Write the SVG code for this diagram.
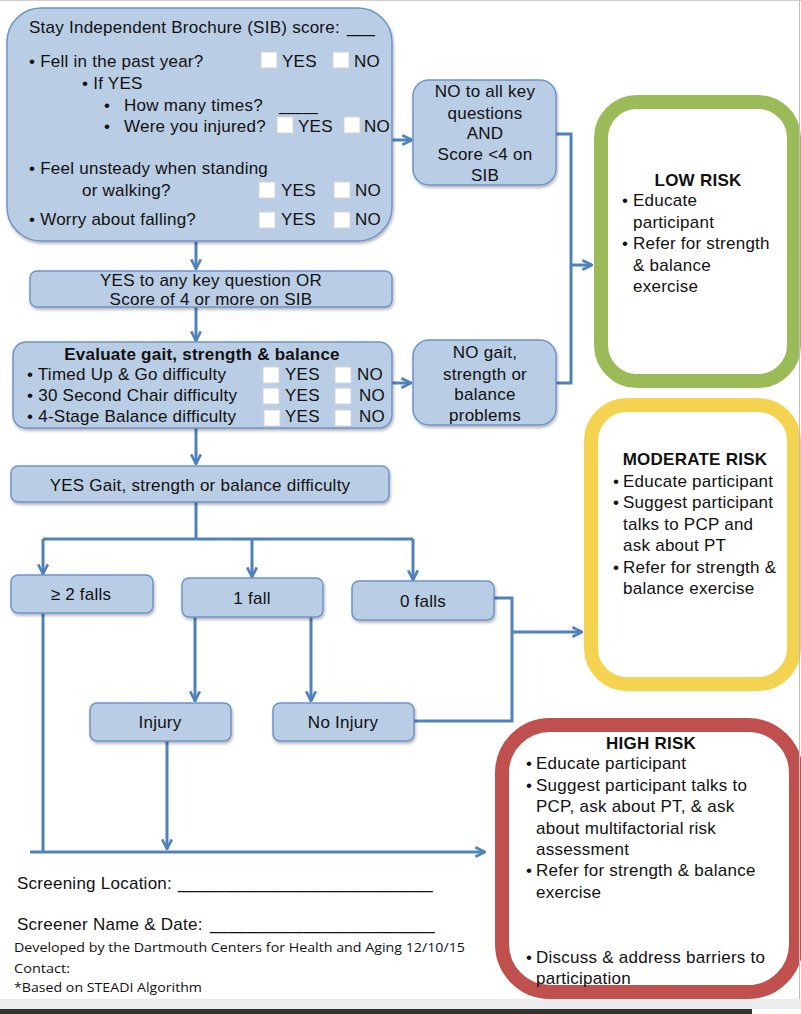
<svg xmlns="http://www.w3.org/2000/svg" width="801" height="1014" viewBox="0 0 801 1014">
<defs>
<filter id="sh" x="-5%" y="-5%" width="110%" height="120%">
<feDropShadow dx="1" dy="2" stdDeviation="1.5" flood-color="#000" flood-opacity="0.3"/>
</filter>
<marker id="ar" viewBox="0 0 10 10" refX="9" refY="5" markerWidth="12" markerHeight="12" markerUnits="userSpaceOnUse" orient="auto">
<path d="M1,1 L9,5 L1,9" fill="none" stroke="#4f81bd" stroke-width="2.2"/>
</marker>
<style>
.box{fill:#b9cde5;stroke:#6f94c9;stroke-width:1.5;filter:url(#sh)}
.t{font-family:"Liberation Sans",Arial,sans-serif;font-size:17px;letter-spacing:0.25px;fill:#111}
.c{text-anchor:middle}
.b{font-weight:bold}
.cb{fill:#fff;stroke:#d4d4d4;stroke-width:1}
.ln{fill:none;stroke:#4f81bd;stroke-width:3}
.ft{font-family:"Open Sans","Noto Sans",sans-serif;font-size:13.5px;fill:#111}
</style>
</defs>
<rect x="0" y="0" width="801" height="1014" fill="#fff"/>

<g id="connectors">
<path class="ln" d="M392,140 H412" marker-end="url(#ar)"/>
<path class="ln" d="M556,134 H571 V383 H556"/>
<path class="ln" d="M571,265 H592" marker-end="url(#ar)"/>
<path class="ln" d="M196,242 V269" marker-end="url(#ar)"/>
<path class="ln" d="M196,307 V341" marker-end="url(#ar)"/>
<path class="ln" d="M392,383 H411" marker-end="url(#ar)"/>
<path class="ln" d="M196,428 V464" marker-end="url(#ar)"/>
<path class="ln" d="M196,502 V539"/>
<path class="ln" d="M43,539 H413"/>
<path class="ln" d="M43,539 V574" marker-end="url(#ar)"/>
<path class="ln" d="M252,539 V577" marker-end="url(#ar)"/>
<path class="ln" d="M413,539 V580" marker-end="url(#ar)"/>
<path class="ln" d="M494,598 H512 V721 H414"/>
<path class="ln" d="M512,632 H582" marker-end="url(#ar)"/>
<path class="ln" d="M195,617 V701" marker-end="url(#ar)"/>
<path class="ln" d="M311,617 V701" marker-end="url(#ar)"/>
<path class="ln" d="M43,613 V852"/>
<path class="ln" d="M30,852 H485" marker-end="url(#ar)"/>
<path class="ln" d="M167,741 V849" marker-end="url(#ar)"/>
</g>

<g id="sib">
<rect class="box" x="7" y="8" width="385" height="233" rx="34"/>
<text class="t" x="29" y="33">Stay Independent Brochure (SIB) score:</text>
<text class="t" x="347" y="33" textLength="28" lengthAdjust="spacingAndGlyphs">___</text>
<text class="t" x="29" y="67">• Fell in the past year?</text>
<rect class="cb" x="261" y="52" width="16" height="16"/><text class="t" x="282" y="67">YES</text>
<rect class="cb" x="333" y="52" width="16" height="16"/><text class="t" x="354" y="67">NO</text>
<text class="t" x="82" y="89">• If YES</text>
<text class="t" x="104" y="111">•</text><text class="t" x="124" y="111">How many times?</text>
<text class="t" x="279" y="111" textLength="39" lengthAdjust="spacingAndGlyphs">_____</text>
<text class="t" x="104" y="132">•</text><text class="t" x="124" y="132">Were you injured?</text>
<rect class="cb" x="277" y="117" width="16" height="16"/><text class="t" x="298" y="132">YES</text>
<rect class="cb" x="344" y="117" width="16" height="16"/><text class="t" x="364" y="132">NO</text>
<text class="t" x="29" y="174">• Feel unsteady when standing</text>
<text class="t" x="82" y="196">or walking?</text>
<rect class="cb" x="259" y="182" width="16" height="16"/><text class="t" x="281" y="196">YES</text>
<rect class="cb" x="334" y="182" width="16" height="16"/><text class="t" x="355" y="196">NO</text>
<text class="t" x="29" y="225">• Worry about falling?</text>
<rect class="cb" x="259" y="212" width="16" height="16"/><text class="t" x="281" y="225">YES</text>
<rect class="cb" x="334" y="212" width="16" height="16"/><text class="t" x="355" y="225">NO</text>
</g>

<g id="no-key">
<rect class="box" x="413" y="80" width="143" height="105" rx="16"/>
<text class="t c" x="485" y="97">NO to all key</text>
<text class="t c" x="485" y="119">questions</text>
<text class="t c" x="485" y="139">AND</text>
<text class="t c" x="485" y="160">Score &lt;4 on</text>
<text class="t c" x="485" y="181">SIB</text>
</g>

<g id="yes-key">
<rect class="box" x="30" y="271" width="362" height="36" rx="7"/>
<text class="t c" x="211" y="286">YES to any key question OR</text>
<text class="t c" x="211" y="305">Score of 4 or more on SIB</text>
</g>

<g id="evaluate">
<rect class="box" x="13" y="342" width="379" height="86" rx="13"/>
<text class="t c b" x="202" y="360">Evaluate gait, strength &amp; balance</text>
<text class="t" x="27" y="380">• Timed Up &amp; Go difficulty</text>
<rect class="cb" x="263" y="367" width="16" height="16"/><text class="t" x="285" y="380">YES</text>
<rect class="cb" x="335" y="367" width="16" height="16"/><text class="t" x="357" y="380">NO</text>
<text class="t" x="27" y="401">• 30 Second Chair difficulty</text>
<rect class="cb" x="263" y="388" width="16" height="16"/><text class="t" x="285" y="401">YES</text>
<rect class="cb" x="335" y="388" width="16" height="16"/><text class="t" x="359" y="401">NO</text>
<text class="t" x="27" y="422">• 4-Stage Balance difficulty</text>
<rect class="cb" x="264" y="410" width="16" height="16"/><text class="t" x="285" y="422">YES</text>
<rect class="cb" x="335" y="410" width="16" height="16"/><text class="t" x="359" y="422">NO</text>
</g>

<g id="no-gait">
<rect class="box" x="413" y="340" width="143" height="85" rx="16"/>
<text class="t c" x="485" y="358">NO gait,</text>
<text class="t c" x="485" y="380">strength or</text>
<text class="t c" x="485" y="400">balance</text>
<text class="t c" x="485" y="421">problems</text>
</g>

<g id="yes-gait">
<rect class="box" x="11" y="466" width="378" height="36" rx="7"/>
<text class="t c" x="200" y="491">YES Gait, strength or balance difficulty</text>
</g>

<g id="two-falls">
<rect class="box" x="11" y="575" width="142" height="38" rx="7"/>
<text class="t c" x="81" y="600">≥ 2 falls</text>
</g>
<g id="one-fall">
<rect class="box" x="182" y="578" width="141" height="39" rx="7"/>
<text class="t c" x="252" y="604">1 fall</text>
</g>
<g id="zero-falls">
<rect class="box" x="352" y="581" width="142" height="39" rx="7"/>
<text class="t c" x="423" y="607">0 falls</text>
</g>
<g id="injury">
<rect class="box" x="90" y="703" width="141" height="38" rx="7"/>
<text class="t c" x="160" y="728">Injury</text>
</g>
<g id="no-injury">
<rect class="box" x="273" y="703" width="141" height="38" rx="7"/>
<text class="t c" x="343" y="728">No Injury</text>
</g>

<g id="low-risk">
<rect x="601" y="102" width="193" height="279" rx="36" fill="#fff" stroke="#9bbb59" stroke-width="14"/>
<text class="t c b" x="698" y="186">LOW RISK</text>
<text class="t" x="622" y="206">•</text><text class="t" x="633" y="206">Educate</text>
<text class="t" x="633" y="228">participant</text>
<text class="t" x="622" y="249">•</text><text class="t" x="633" y="249">Refer for strength</text>
<text class="t" x="633" y="271">&amp; balance</text>
<text class="t" x="633" y="292">exercise</text>
</g>

<g id="moderate-risk">
<rect x="591" y="405" width="203" height="279" rx="36" fill="#fff" stroke="#f4d350" stroke-width="14"/>
<text class="t c b" x="695" y="465">MODERATE RISK</text>
<text class="t" x="613" y="487">•</text><text class="t" x="623" y="487">Educate participant</text>
<text class="t" x="613" y="508">•</text><text class="t" x="623" y="508">Suggest participant</text>
<text class="t" x="623" y="530">talks to PCP and</text>
<text class="t" x="623" y="551">ask about PT</text>
<text class="t" x="613" y="573">•</text><text class="t" x="623" y="573">Refer for strength &amp;</text>
<text class="t" x="623" y="594">balance exercise</text>
</g>

<g id="high-risk">
<rect x="502" y="725" width="294" height="267" rx="48" fill="#fff" stroke="#c0504d" stroke-width="14"/>
<text class="t c b" x="651" y="749">HIGH RISK</text>
<text class="t" x="526" y="769">•</text><text class="t" x="536" y="769">Educate participant</text>
<text class="t" x="526" y="791">•</text><text class="t" x="536" y="791">Suggest participant talks to</text>
<text class="t" x="536" y="812">PCP, ask about PT, &amp; ask</text>
<text class="t" x="536" y="834">about multifactorial risk</text>
<text class="t" x="536" y="855">assessment</text>
<text class="t" x="526" y="876">•</text><text class="t" x="536" y="876">Refer for strength &amp; balance</text>
<text class="t" x="536" y="898">exercise</text>
<text class="t" x="526" y="963">•</text><text class="t" x="536" y="963">Discuss &amp; address barriers to</text>
<text class="t" x="536" y="984">participation</text>
</g>

<g id="footer">
<text class="t" x="17" y="889">Screening Location:</text>
<text class="t" x="178" y="889" textLength="255" lengthAdjust="spacingAndGlyphs">___________________________</text>
<text class="t" x="17" y="930">Screener Name &amp; Date:</text>
<text class="t" x="210" y="930" textLength="225" lengthAdjust="spacingAndGlyphs">________________________</text>
<text class="ft" x="14" y="952" textLength="451" lengthAdjust="spacingAndGlyphs">Developed by the Dartmouth Centers for Health and Aging 12/10/15</text>
<text class="ft" x="14" y="973" textLength="56" lengthAdjust="spacingAndGlyphs">Contact:</text>
<text class="ft" x="14" y="992" textLength="188" lengthAdjust="spacingAndGlyphs">*Based on STEADI Algorithm</text>
</g>

<g id="page-edges">
<line x1="0" y1="0.5" x2="801" y2="0.5" stroke="#cfcfcf" stroke-width="1"/>
<line x1="799.5" y1="0" x2="799.5" y2="1000" stroke="#bfbfbf" stroke-width="1"/>
<rect x="0" y="999" width="801" height="10" fill="#ececec"/>
<rect x="0" y="1009" width="752" height="5" fill="#333"/>
</g>
</svg>
